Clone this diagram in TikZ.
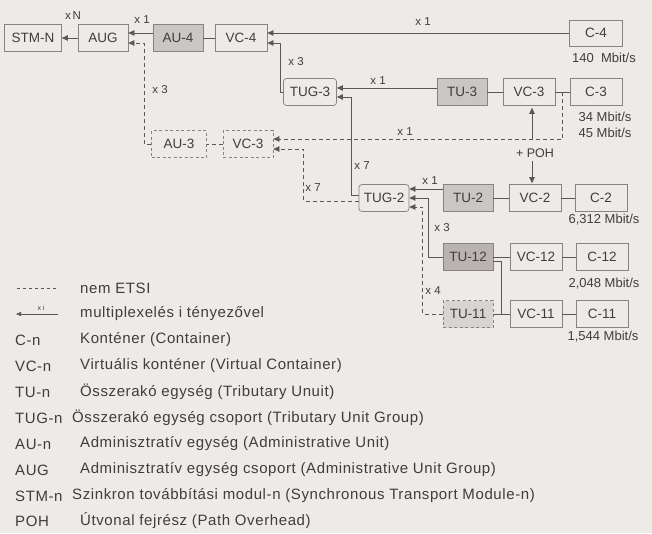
\documentclass[tikz,border=0pt]{standalone}
\usepackage{fontspec}
\setmainfont{Liberation Sans}
\newfontfamily\legfont[LetterSpace=4]{Liberation Sans}
\usetikzlibrary{arrows.meta,calc}
\definecolor{bg}{HTML}{ECEBE8}
\definecolor{ink}{HTML}{433C3C}
\definecolor{edgec}{HTML}{8A8280}
\definecolor{linec}{HTML}{5E5656}
\definecolor{gfill}{HTML}{CAC6C3}
\definecolor{gdark}{HTML}{B9B4B1}
\begin{document}
\begin{tikzpicture}[x=1pt,y=-1pt,
  font=\fontsize{13.5}{15}\selectfont,
  box/.style={draw=edgec, line width=0.7pt, minimum width=50pt, minimum height=27pt, inner sep=0pt, text=ink},
  gbox/.style={box, fill=gfill},
  dbox/.style={box, dash pattern=on 3pt off 2.5pt},
  rbox/.style={box, rounded corners=3pt},
  conn/.style={draw=linec, line width=0.7pt},
  dconn/.style={conn, dash pattern=on 4pt off 3pt},
  tip/.style={-{Triangle[length=6pt,width=5.5pt]}},
  lab/.style={font=\fontsize{11.5}{13}\selectfont, text=ink, inner sep=1pt},
  rate/.style={font=\fontsize{13}{15}\selectfont, text=ink, inner sep=1pt},
  legt/.style={text=ink, anchor=west, inner sep=0pt, font=\legfont\fontsize{15}{17}\selectfont},
]
\fill[bg] (0,0) rectangle (652,533);
\useasboundingbox (0,0) rectangle (652,533);

% ---- top row
\node[box, minimum width=57pt] (stm) at (33,38) {STM-N};
\node[box] (aug) at (103,38) {AUG};
\node[gbox] (au4) at (178,38) {AU-4};
\node[box, minimum width=52pt] (vc4) at (241,38) {VC-4};
\node[box, minimum width=53pt, minimum height=26pt] (c4) at (596,33) {C-4};
\node[rate] (r140) at (604,58) {140\ \ Mbit/s};

% ---- TUG-3 row
\node[rbox, minimum width=53pt] (tug3) at (310,92) {TUG-3};
\node[gbox] (tu3) at (462,92) {TU-3};
\node[box, minimum width=52pt] (vc3) at (529,92) {VC-3};
\node[box, minimum width=52pt] (c3) at (596,92) {C-3};
\node[rate] (r34) at (605,117) {34 Mbit/s};
\node[rate] (r45) at (605,133) {45 Mbit/s};

% ---- AU-3 row
\node[dbox, minimum width=55pt] (au3) at (179,144) {AU-3};
\node[dbox] (vc3l) at (248,144) {VC-3};

% ---- TUG-2 rows
\node[rbox] (tug2) at (384,198) {TUG-2};
\node[gbox] (tu2) at (468,198) {TU-2};
\node[box, minimum width=52pt] (vc2) at (535,198) {VC-2};
\node[box, minimum width=52pt] (c2) at (601,198) {C-2};
\node[rate] (r6) at (604,220) {6,312 Mbit/s};

\node[box, fill=gdark] (tu12) at (468,257) {TU-12};
\node[box, minimum width=52pt] (vc12) at (536,257) {VC-12};
\node[box, minimum width=52pt] (c12) at (602,257) {C-12};
\node[rate] (r2) at (604,284) {2,048 Mbit/s};

\node[dbox, fill=gfill!75] (tu11) at (468,314) {TU-11};
\node[box, minimum width=52pt] (vc11) at (536,314) {VC-11};
\node[box, minimum width=52pt] (c11) at (602,314) {C-11};
\node[rate] (r1) at (603,337) {1,544 Mbit/s};

% ---- connectors, top
\draw[conn,tip] (aug.west) -- (stm.east);
\node[lab] (lxn) at (73,16) {x\,N};
\draw[conn,tip] ([yshift=5pt]au4.west) -- ([yshift=5pt]aug.east);
\node[lab] (lx1a) at (142,20) {x 1};
\draw[conn] (au4.east) -- (vc4.west);
\draw[conn,tip] (c4.west) -- ([yshift=5pt]vc4.east);
\node[lab] (lx1b) at (423,22) {x 1};
\draw[conn,tip] (tug3.west) -- ++(-3,0) |- ([yshift=-5pt]vc4.east);
\node[lab] (lx3a) at (296,62) {x 3};

% ---- TUG-3
\draw[conn,tip] ([yshift=4pt]tu3.west) -- ([yshift=4pt]tug3.east);
\node[lab] (lx1c) at (378,81) {x 1};
\draw[conn] (tu3.east) -- (vc3.west);
\draw[conn] (vc3.east) -- (c3.west);
\draw[conn,tip] ([yshift=3pt]tug2.west) -| ([xshift=14pt,yshift=-5pt]tug3.east) -- ([yshift=-5pt]tug3.east);
\node[lab] (lx7a) at (362,166) {x 7};

% ---- dashed C-3 / VC-3 (left)
\coordinate (j3) at ($(vc3.east)!0.5!(c3.west)$);
\draw[dconn,tip] (j3) |- ([yshift=5pt]vc3l.east);
\node[lab] (lx1d) at (405,132) {x 1};
\draw[dconn] (vc3l.west) -- (au3.east);
\draw[dconn,tip] (au3.west) -- ++(-6.5,0) |- ([yshift=-5pt]aug.east);
\node[lab] (lx3b) at (160,90) {x 3};
\draw[dconn,tip] ([yshift=-3pt]tug2.west) -| ([xshift=30pt,yshift=-5pt]vc3l.east) -- ([yshift=-5pt]vc3l.east);
\node[lab] (lx7b) at (313,188) {x 7};

% ---- POH
\node[lab, font=\fontsize{12.5}{14}\selectfont] (poh) at (535,153) {+ POH};
\draw[conn,tip] ([xshift=3pt,yshift=-34pt]vc3.south) -- ([xshift=3pt,yshift=-2pt]vc3.south);
\draw[conn,tip] ([xshift=-3pt,yshift=23pt]vc2.north) -- ([xshift=-3pt,yshift=1pt]vc2.north);

% ---- TUG-2 inputs
\draw[conn,tip] ([yshift=9pt]tu2.west) -- ([yshift=9pt]tug2.east);
\node[lab] (lx1e) at (430,181) {x 1};
\draw[conn,tip] (tu12.west) -| ([xshift=19pt]tug2.east) -- (tug2.east);
\node[lab] (lx3c) at (442,228) {x 3};
\draw[dconn,tip] (tu11.west) -| ([xshift=13pt,yshift=-9pt]tug2.east) -- ([yshift=-9pt]tug2.east);
\node[lab] (lx4) at (433,291) {x 4};

\draw[conn] (tu2.east) -- (vc2.west);
\draw[conn] (vc2.east) -- (c2.west);
\draw[conn] (tu12.east) -- (vc12.west);
\draw[conn] (vc12.east) -- (c12.west);
\draw[conn] ([yshift=-4pt]tu12.east) -- ++(8,0) |- (vc11.west);
\draw[conn] (tu11.east) -- (vc11.west);
\draw[conn] (vc11.east) -- (c11.west);

% ---- legend
\coordinate (d1) at (17,288);
\coordinate (d2) at (58,288);
\draw[conn, dash pattern=on 3pt off 3pt, line width=0.5pt] (d1) -- (d2);
\node[legt] (g1) at (80,288) {nem ETSI};
\coordinate (m1) at (58,314);
\coordinate (m2) at (16,314);
\draw[conn, line width=0.5pt, -{Triangle[length=5pt,width=4pt]}] (m1) -- (m2);
\node[lab, font=\fontsize{7}{8}\selectfont] (mxi) at (41,308) {x i};
\node[legt] (g2) at (80,314) {multiplexelés i tényezővel};
\node[legt] (a3) at (15,340) {C-n};   \node[legt] (g3) at (80,340) {Konténer (Container)};
\node[legt] (a4) at (15,366) {VC-n};  \node[legt] (g4) at (80,366) {Virtuális konténer (Virtual Container)};
\node[legt] (a5) at (15,392) {TU-n};  \node[legt] (g5) at (80,392) {Összerakó egység (Tributary Unuit)};
\node[legt] (a6) at (15,418) {TUG-n}; \node[legt] (g6) at (72,418) {Összerakó egység csoport (Tributary Unit Group)};
\node[legt] (a7) at (15,444) {AU-n};  \node[legt] (g7) at (80,444) {Adminisztratív egység (Administrative Unit)};
\node[legt] (a8) at (15,470) {AUG};   \node[legt] (g8) at (80,470) {Adminisztratív egység csoport (Administrative Unit Group)};
\node[legt] (a9) at (15,496) {STM-n}; \node[legt] (g9) at (72,496) {Szinkron továbbítási modul-n (Synchronous Transport Module-n)};
\node[legt] (a10) at (15,521) {POH};  \node[legt] (g10) at (80,521) {Útvonal fejrész (Path Overhead)};
\end{tikzpicture}
\end{document}
